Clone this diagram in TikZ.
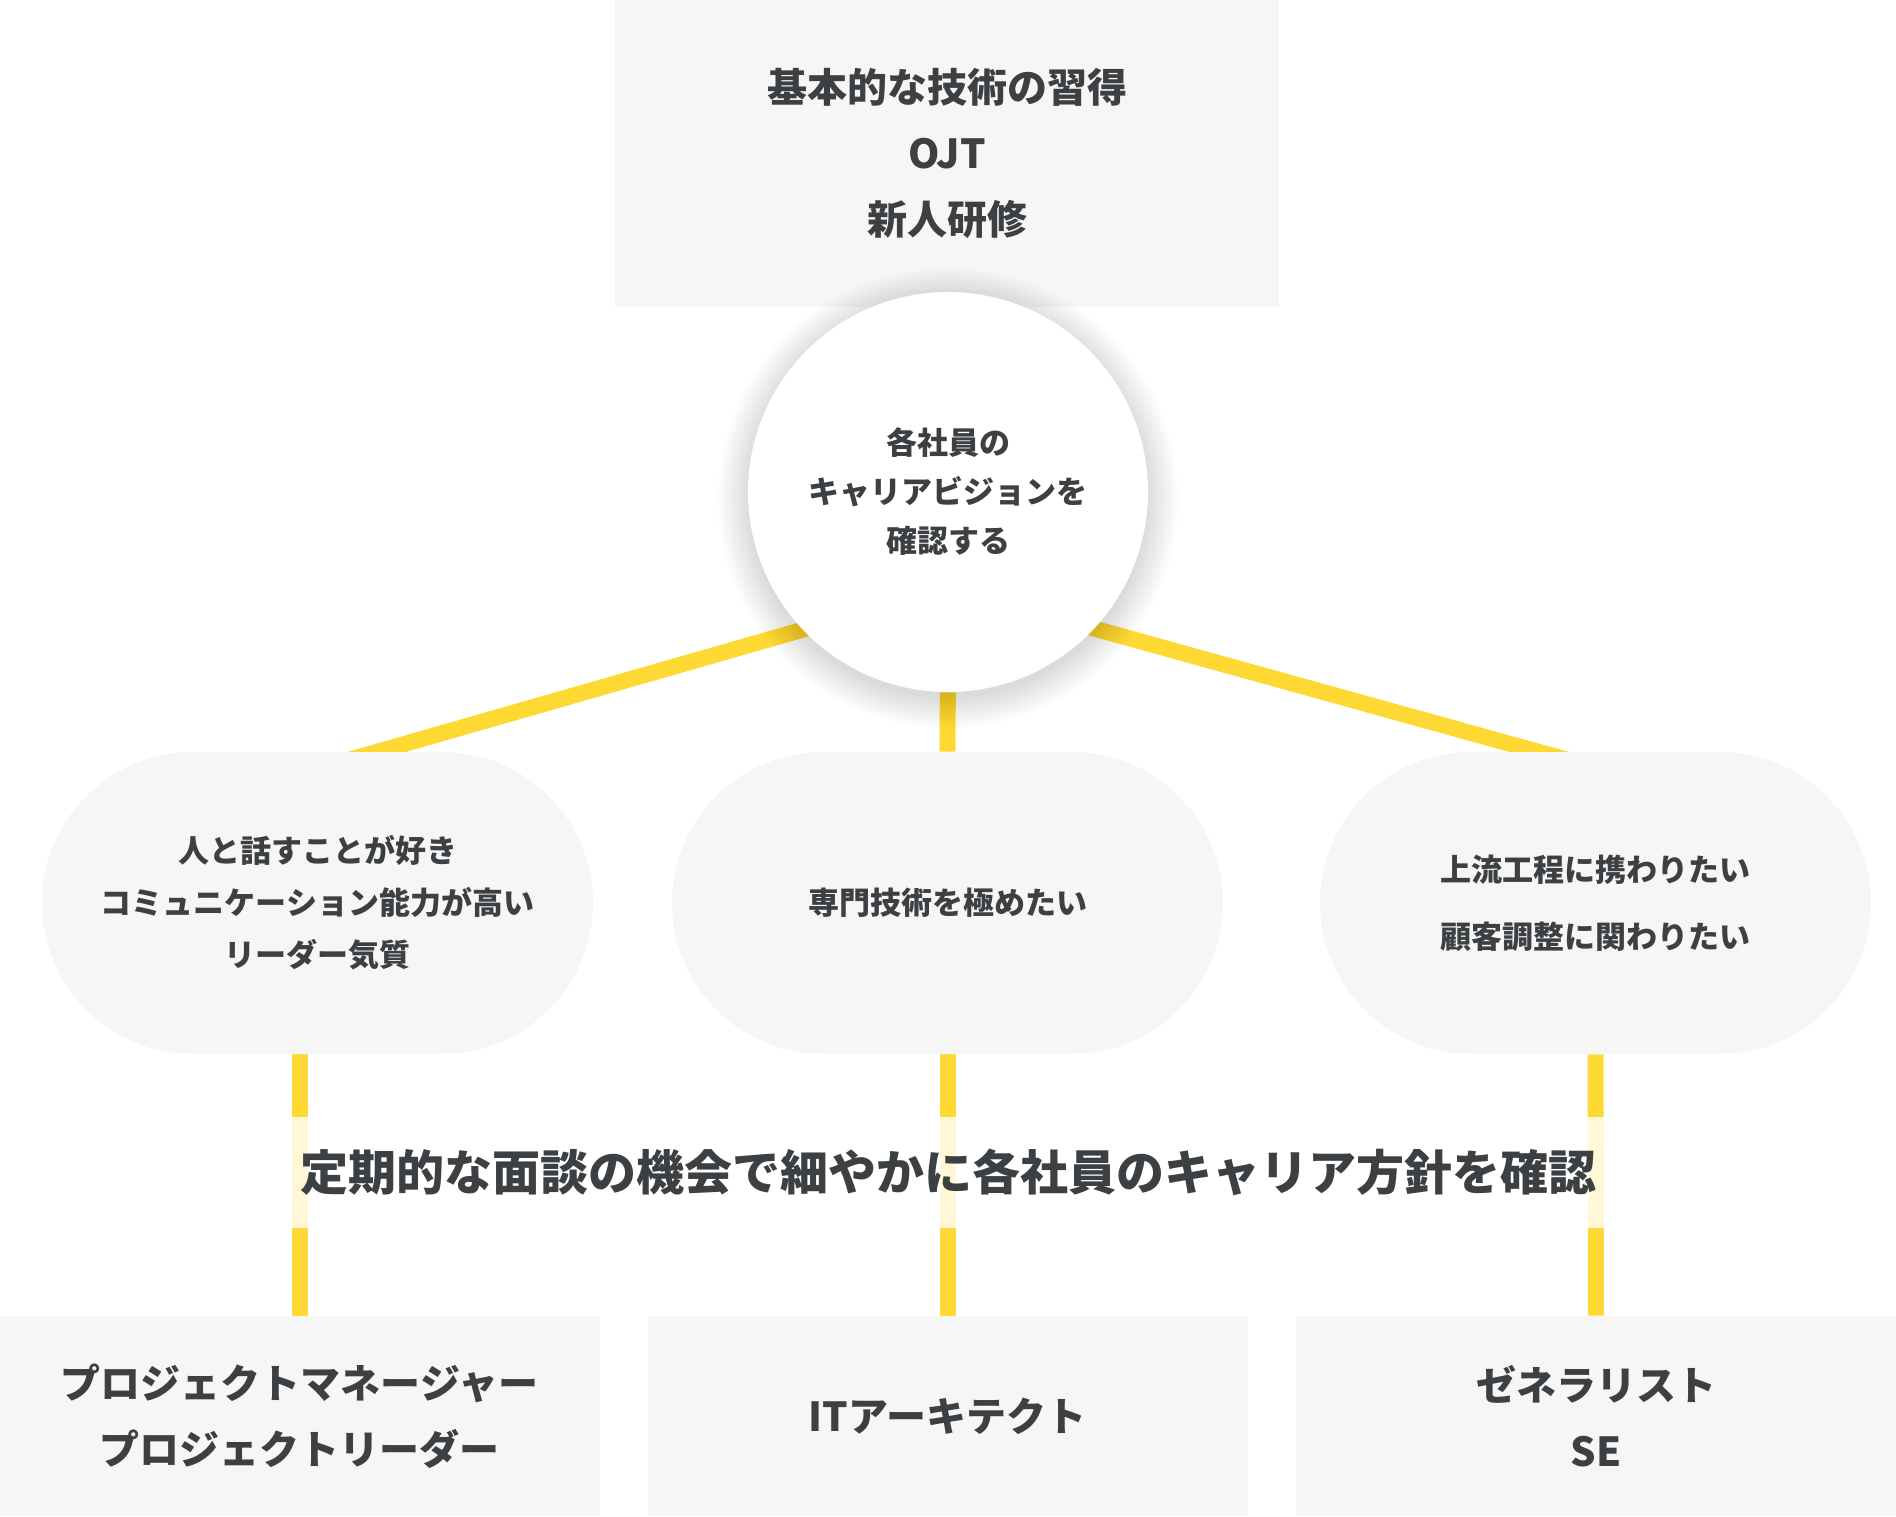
\documentclass[tikz,border=0pt]{standalone}
\usepackage{fontspec}
\setmainfont{Noto Sans CJK JP}
\usetikzlibrary{backgrounds}
\definecolor{careergray}{RGB}{246, 246, 246}
\definecolor{careertext}{RGB}{60, 64, 67}
\definecolor{careeryellow}{RGB}{255, 217, 51}
\tikzset{
    panel/.style={rectangle, fill=careergray, inner sep=0pt,
        align=center, text=careertext},
    topbox/.style={panel, minimum width=332pt, minimum height=153.5pt,
        font=\fontsize{20pt}{33pt}\selectfont\bfseries},
    vision/.style={circle, fill=white, inner sep=0pt, minimum size=200pt,
        align=center, text=careertext,
        font=\fontsize{15.5pt}{24.5pt}\selectfont\bfseries},
    want/.style={panel, rounded corners=75.5pt, minimum width=275.5pt,
        minimum height=151pt, font=\fontsize{15.5pt}{26pt}\selectfont\bfseries},
    rolebox/.style={panel, minimum width=300pt, minimum height=100pt,
        font=\fontsize{20pt}{33pt}\selectfont\bfseries},
    band/.style={rectangle, fill=white, fill opacity=0.8, text opacity=1,
        text=careertext, inner xsep=14pt, inner ysep=0pt, minimum height=55.5pt,
        font=\fontsize{24pt}{28pt}\selectfont\bfseries},
    link/.style={line width=8pt, draw=careeryellow},
}
\begin{document}
\begin{tikzpicture}[x=0.5pt, y=-0.5pt]
    \useasboundingbox (0,0) rectangle (1896,1516);
    % training
    \node[topbox] (basic) at (947,153.5) {基本的な技術の習得\\OJT\\新人研修};
    % soft shadow of the circle
    \foreach \r in {1,...,18}
        \fill[black, opacity=0.006] (948,498) circle[radius={99pt+\r*0.9pt}];
    \node[vision] (vision) at (948,492) {各社員の\\キャリアビジョンを\\確認する};
    % wishes
    \node[want] (wantL) at (317.5,903) {人と話すことが好き\\コミュニケーション能力が高い\\リーダー気質};
    \node[want] (wantM) at (947.5,903) {専門技術を極めたい};
    \node[want] (wantR) at (1595.5,903) {上流工程に携わりたい\\[7.5pt]顧客調整に関わりたい};
    % careers
    \node[rolebox] (pm) at (299.5,1416) {プロジェクトマネージャー\\プロジェクトリーダー};
    \node[rolebox] (arch) at (947.5,1416) {ITアーキテクト};
    \node[rolebox] (gen) at (1596,1416) {ゼネラリスト\\SE};
    \node[band] (policy) at (948,1172) {定期的な面談の機会で細やかに各社員のキャリア方針を確認};
    \begin{scope}[on background layer]
        \coordinate (hub) at (948,588);
        \draw[link] (hub) -- ([xshift=12.75pt, yshift=-5pt]wantL.north);
        \draw[link] (hub) -- ([xshift=-10.75pt, yshift=-5pt]wantR.north);
        \draw[link] (vision) -- (wantM);
        \draw[link] (pm.north |- wantL.south) -- (pm.north);
        \draw[link] (wantM) -- (arch);
        \draw[link] (wantR) -- (gen);
    \end{scope}
\end{tikzpicture}
\end{document}
